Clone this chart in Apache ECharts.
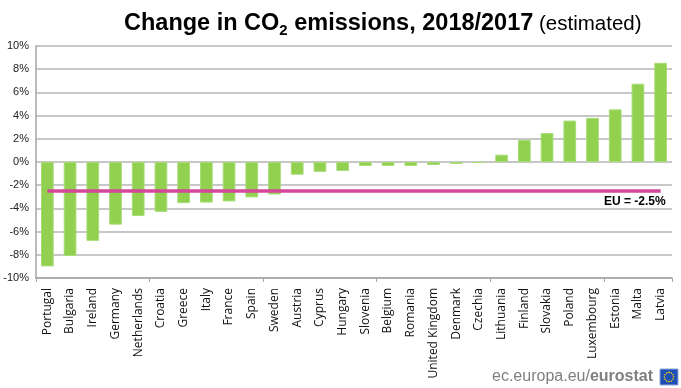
<!DOCTYPE html>
<html><head><meta charset="utf-8">
<script src="https://cdn.jsdelivr.net/npm/echarts@6/dist/echarts.min.js"></script>
<style>html,body{margin:0;padding:0;background:#fff}#c{width:681px;height:388px}</style>
</head><body><div id="c"></div>
<script>
const countries = ["Portugal","Bulgaria","Ireland","Germany","Netherlands","Croatia","Greece","Italy","France","Spain","Sweden","Austria","Cyprus","Hungary","Slovenia","Belgium","Romania","United Kingdom","Denmark","Czechia","Lithuania","Finland","Slovakia","Poland","Luxembourg","Estonia","Malta","Latvia"];
const changes = [-9.0,-8.1,-6.8,-5.4,-4.65,-4.3,-3.55,-3.5,-3.4,-3.05,-2.8,-1.1,-0.85,-0.77,-0.34,-0.34,-0.34,-0.26,-0.17,-0.08,0.63,1.9,2.5,3.57,3.8,4.54,6.75,8.55];
const euValue = -2.5;
const euLabel = "EU = -2.5%";
const yTicks = {min:-10, max:10, interval:2};

const chart = echarts.init(document.getElementById('c'), null, {renderer:'canvas'});
const euData = countries.map(() => euValue);

const stars = [];
for (let i = 0; i < 12; i++) {
  const a = i / 12 * Math.PI * 2;
  stars.push({type:'circle', shape:{cx:669 + 4.6*Math.cos(a), cy:377 + 4.6*Math.sin(a), r:0.8}, style:{fill:'#ffdd00'}});
}

chart.setOption({
  animation:false,
  title:{
    text:'{b|Change in CO}{s|2}{b| emissions, 2018/2017}{r| (estimated)}',
    left:119, top:5,
    textStyle:{
      rich:{
        b:{fontFamily:'Liberation Sans', fontWeight:'bold', fontSize:23.5, color:'#000', lineHeight:28},
        s:{fontFamily:'Liberation Sans', fontWeight:'bold', fontSize:15, color:'#000', lineHeight:28, padding:[13,0,0,0]},
        r:{fontFamily:'Liberation Sans', fontWeight:'normal', fontSize:20.5, color:'#000', lineHeight:28}
      }
    }
  },
  grid:{left:36, right:9, top:46, bottom:110},
  xAxis:[
    {type:'category', data:countries, position:'bottom',
     axisLine:{show:false}, axisTick:{show:false},
     axisLabel:{rotate:90, interval:0, margin:10, fontFamily:'Open Sans', fontSize:12, color:'#111'}},
    {type:'category', data:countries, position:'bottom',
     axisLine:{show:true, onZero:true, lineStyle:{color:'#a6a6a6', width:1.5}},
     axisTick:{show:true, length:4, lineStyle:{color:'#a6a6a6'}},
     axisLabel:{show:false}}
  ],
  yAxis:{type:'value', min:yTicks.min, max:yTicks.max, interval:yTicks.interval,
    axisLine:{show:true, lineStyle:{color:'#a6a6a6', width:1.5}},
    axisTick:{show:false},
    axisLabel:{formatter:'{value}%', fontFamily:'Liberation Sans', fontSize:11, color:'#222', margin:7},
    splitLine:{lineStyle:{color:'#b4b4b4', width:1.5}}
  },
  series:[
    {type:'bar', data:changes, xAxisIndex:0, barWidth:'56%',
     itemStyle:{color:'#92d050', borderColor:'#a8dc78', borderWidth:1}},
    {type:'line', data:euData, xAxisIndex:0, symbol:'none', z:5,
     lineStyle:{color:'#d4479b', width:3.5},
     endLabel:{show:true, formatter:()=>euLabel, offset:[5,5], align:'right', verticalAlign:'top',
       fontFamily:'Liberation Sans', fontWeight:'bold', fontSize:12, color:'#000', distance:0}}
  ],
  graphic:[
    {type:'text', right:28, top:369, style:{
      text:'{a|ec.europa.eu/}{b|eurostat}',
      rich:{a:{fontFamily:'Liberation Sans', fontSize:16, fill:'#7f7f7f'}, b:{fontFamily:'Liberation Sans', fontSize:16, fontWeight:'bold', fill:'#7f7f7f'}}
    }},
    {type:'group', children:[{type:'rect', shape:{x:660, y:369, width:18, height:16}, style:{fill:'#1f4fb4', stroke:'#8fa6d9', lineWidth:1}}].concat(stars)}
  ]
});
</script></body></html>
